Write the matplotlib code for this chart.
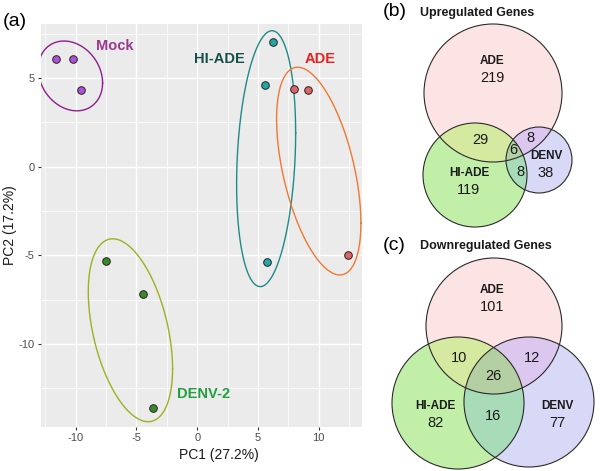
import numpy as np
import matplotlib
matplotlib.use("Agg")
import matplotlib.pyplot as plt
from matplotlib.patches import Circle
from matplotlib.colors import to_rgb

plt.rcParams['font.family'] = ['Liberation Sans', 'DejaVu Sans']

# ---------------- data: PCA scores ----------------
groups = ["Mock", "HI-ADE", "ADE", "DENV-2"]
pc1 = {
    "Mock":   [-11.6, -10.2, -9.55],
    "HI-ADE": [6.23, 5.55, 5.74],
    "ADE":    [7.96, 9.09, 12.41],
    "DENV-2": [-7.55, -4.45, -3.65],
}
pc2 = {
    "Mock":   [6.07, 6.07, 4.30],
    "HI-ADE": [7.03, 4.62, -5.36],
    "ADE":    [4.41, 4.32, -4.98],
    "DENV-2": [-5.33, -7.20, -13.60],
}
# confidence ellipses (centre, half-ranges, correlation)
ell_cx = [-10.44, 5.67, 10.0, -5.5]
ell_cy = [5.12, 0.45, -0.25, -9.23]
ell_rx = [2.65, 2.43, 3.47, 3.47]
ell_ry = [1.97, 7.22, 5.86, 5.16]
ell_rho = [-0.2, 0.2, -0.5, -0.42]

xticks = [-10, -5, 0, 5, 10]
yticks = [-10, -5, 0, 5]
xlabel = "PC1 (27.2%)"
ylabel = "PC2 (17.2%)"

# ---------------- data: Venn counts ----------------
venn_sets = ["ADE", "HI-ADE", "DENV"]
up_counts = {"A": 219, "H": 119, "D": 38, "AH": 29, "AD": 8, "HD": 8, "AHD": 6}
down_counts = {"A": 101, "H": 82, "D": 77, "AH": 10, "AD": 12, "HD": 16, "AHD": 26}

# ---------------- styles ----------------
pt_col = {"Mock": "#B050D8", "HI-ADE": "#22A6A6", "ADE": "#E06262", "DENV-2": "#3A8A2A"}
ell_col = {"Mock": "#8E1E8E", "HI-ADE": "#1F8A8A", "ADE": "#F07830", "DENV-2": "#A0B020"}
lab_col = {"Mock": "#993A8E", "HI-ADE": "#174F4A", "ADE": "#E8201E", "DENV-2": "#22A040"}
lab_pos = {"Mock": (-8.35, 6.8, "left"), "HI-ADE": (1.8, 6.05, "center"),
           "ADE": (10.1, 6.05, "center"), "DENV-2": (0.55, -12.83, "center")}

W, H = 600, 471
fig = plt.figure(figsize=(W / 100, H / 100), dpi=100)

# ---------------- panel (a) ----------------
ax = fig.add_axes([41 / W, 1 - 427 / H, 321 / W, 403 / H])
ax.set_facecolor("#EBEBEB")
ax.set_xlim(-12.86, 13.56)
ax.set_ylim(-14.69, 8.05)
for v in [-12.5, -7.5, -2.5, 2.5, 7.5, 12.5]:
    ax.axvline(v, color="white", lw=0.5, zorder=0)
for v in [-12.5, -7.5, -2.5, 2.5, 7.5]:
    ax.axhline(v, color="white", lw=0.5, zorder=0)
for v in xticks:
    ax.axvline(v, color="white", lw=1.0, zorder=0)
for v in yticks:
    ax.axhline(v, color="white", lw=1.0, zorder=0)
for s in ax.spines.values():
    s.set_visible(False)
ax.set_xticks(xticks)
ax.set_yticks(yticks)
ax.set_xticklabels([str(v) for v in xticks])
ax.set_yticklabels([str(v) for v in yticks])
ax.tick_params(colors="#333333", labelcolor="#4D4D4D", labelsize=8, length=2.5, width=0.8, pad=2)

t = np.linspace(0, 2 * np.pi, 300)
for i, g in enumerate(groups):
    ex = ell_cx[i] + ell_rx[i] * np.cos(t)
    ey = ell_cy[i] + ell_ry[i] * (ell_rho[i] * np.cos(t) + np.sqrt(1 - ell_rho[i] ** 2) * np.sin(t))
    ax.plot(ex, ey, color=ell_col[g], lw=1.0, zorder=2)
    ax.scatter(pc1[g], pc2[g], s=30, color=pt_col[g], edgecolor="#222222", linewidth=0.7, zorder=3)
    lx, ly, ha = lab_pos[g]
    ax.text(lx, ly, g, color=lab_col[g], fontsize=10.5, fontweight="bold", ha=ha, va="center")

fig.text(219 / W, 1 - 455 / H, xlabel, ha="center", va="center", fontsize=10, color="#1a1a1a")
fig.text(10 / W, 1 - 225 / H, ylabel, ha="center", va="center", rotation=90, fontsize=10, color="#1a1a1a")
fig.text(3 / W, 1 - 22 / H, "(a)", ha="left", va="center", fontsize=14)

# ---------------- Venn panels (b), (c) ----------------
vx = fig.add_axes([0, 0, 1, 1], zorder=-1)
vx.set_xlim(0, W)
vx.set_ylim(H, 0)
vx.axis("off")

region_cols = {
    "A": "#FDE4E4", "H": "#C2F0A8", "D": "#D8D8F8",
    "AH": "#D6EAA2", "AD": "#DCC8EE", "HD": "#A8DCB8", "AHD": "#B4CFA2",
}

def venn(circles, counts, label_pos, title, title_y, tag, y0, y1):
    # raster of region colours
    gx, gy = np.meshgrid(np.arange(380, 600, 0.5) + 0.25, np.arange(y0, y1, 0.5) + 0.25)
    inside = [(gx - cx) ** 2 + (gy - cy) ** 2 <= r ** 2 for cx, cy, r in circles]
    img = np.ones(gx.shape + (4,))
    img[..., 3] = 0
    keys = "AHD"
    for mask_id in range(1, 8):
        key = "".join(k for b, k in enumerate(keys) if mask_id >> b & 1)
        m = np.ones(gx.shape, bool)
        for b in range(3):
            m &= inside[b] if (mask_id >> b & 1) else ~inside[b]
        img[m, :3] = to_rgb(region_cols[key])
        img[m, 3] = 1
    vx.imshow(img, extent=(380, 600, y1, y0), interpolation="bilinear", zorder=1)
    for (cx, cy, r) in circles:
        vx.add_patch(Circle((cx, cy), r, facecolor="none", edgecolor="#2a2a2a", lw=0.8, zorder=2))
    names = {"A": "ADE", "H": "HI-ADE", "D": "DENV"}
    for key, (x, y) in label_pos.items():
        if key in names:
            vx.text(x, y - 9, names[key], ha="center", va="center", fontsize=8.5, fontweight="bold", color="#1a1a1a", zorder=3)
            vx.text(x, y + 8, str(counts[key]), ha="center", va="center", fontsize=10.5, color="#1a1a1a", zorder=3)
        else:
            vx.text(x, y, str(counts[key]), ha="center", va="center", fontsize=10.5, color="#1a1a1a", zorder=3)
    vx.text(420, title_y, title, ha="left", va="center", fontsize=9, fontweight="bold", color="#1a1a1a")
    vx.text(383, title_y - 1, tag, ha="left", va="center", fontsize=14)

up_circles = [(493, 93, 69), (475, 175, 52), (539, 160, 33)]
up_pos = {"A": (492, 70), "H": (469, 182), "D": (546, 165),
          "AH": (480, 140), "AD": (530, 138), "HD": (520, 172), "AHD": (513, 150)}
venn(up_circles, up_counts, up_pos, "Upregulated Genes", 13, "(b)", 0, 235)

down_circles = [(494, 326, 68), (458, 403, 66), (529, 402, 65)]
down_pos = {"A": (492, 299), "H": (435, 415), "D": (557, 415),
            "AH": (459, 358), "AD": (532, 358), "HD": (493, 416), "AHD": (493, 376)}
venn(down_circles, down_counts, down_pos, "Downregulated Genes", 246, "(c)", 235, 471)

vx.set_xlim(0, W)
vx.set_ylim(H, 0)
vx.set_aspect("auto")

fig.savefig("out.png", dpi=100)
